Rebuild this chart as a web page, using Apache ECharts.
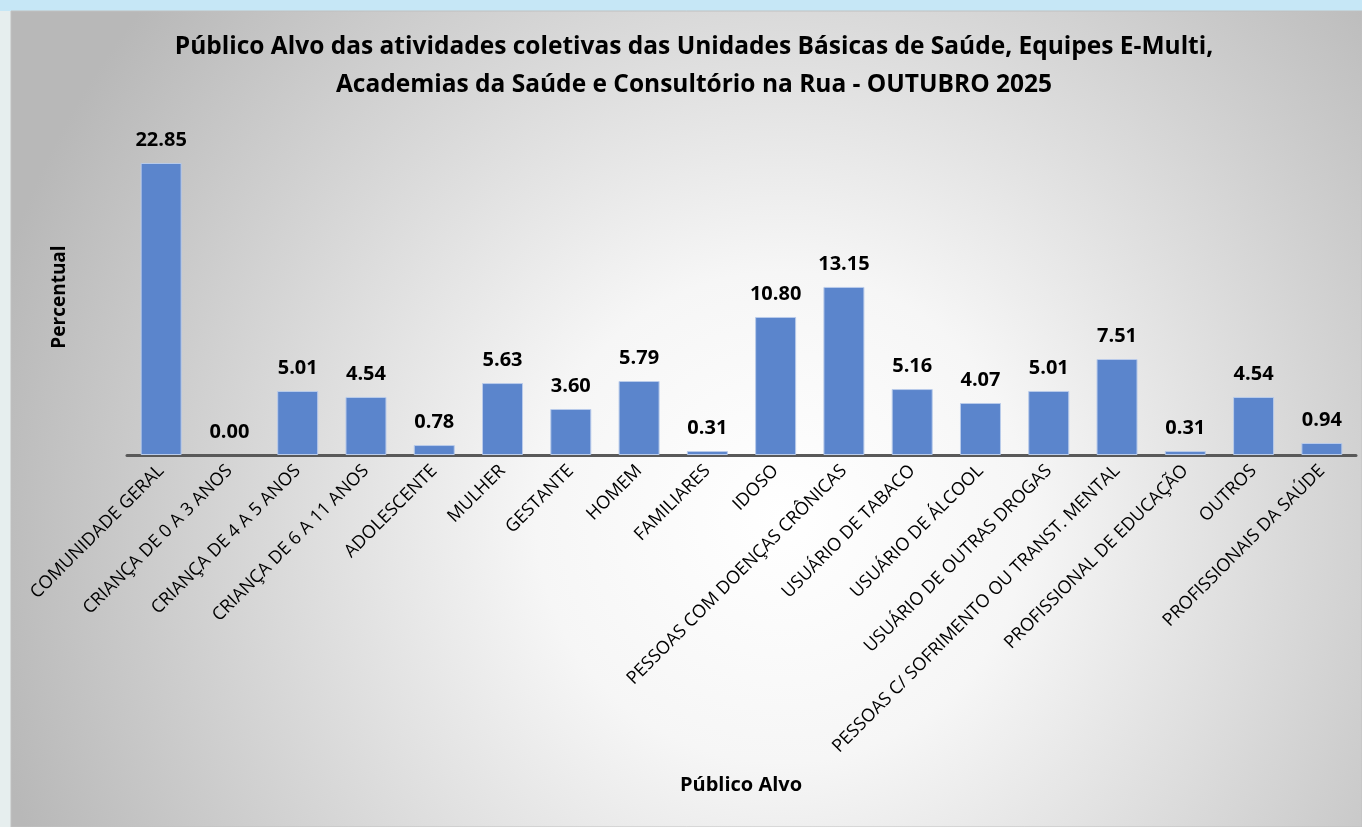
<!DOCTYPE html>
<html><head><meta charset="utf-8">
<script src="https://cdn.jsdelivr.net/npm/echarts@6/dist/echarts.min.js"></script>
<style>html,body{margin:0;padding:0;background:#c6e7f6;}#c{width:1362px;height:827px;}</style>
</head><body><div id="c"></div>
<script>
const titleText = 'Público Alvo das atividades coletivas das Unidades Básicas de Saúde, Equipes E-Multi,\nAcademias da Saúde e Consultório na Rua - OUTUBRO 2025';
const categories = ['COMUNIDADE GERAL','CRIANÇA DE 0 A 3 ANOS','CRIANÇA DE 4 A 5 ANOS','CRIANÇA DE 6 A 11 ANOS','ADOLESCENTE','MULHER','GESTANTE','HOMEM','FAMILIARES','IDOSO','PESSOAS COM DOENÇAS CRÔNICAS','USUÁRIO DE TABACO','USUÁRIO DE ÁLCOOL','USUÁRIO DE OUTRAS DROGAS','PESSOAS C/ SOFRIMENTO OU TRANST. MENTAL','PROFISSIONAL DE EDUCAÇÃO','OUTROS','PROFISSIONAIS DA SAÚDE'];
const values = [22.85,0.00,5.01,4.54,0.78,5.63,3.60,5.79,0.31,10.80,13.15,5.16,4.07,5.01,7.51,0.31,4.54,0.94];
const yAxisName = 'Percentual';
const xAxisName = 'Público Alvo';

const FONT = 'Open Sans';
const barData = values.map(v => v > 0 ? v : {value: v, itemStyle: {borderWidth: 0}});
const chart = echarts.init(document.getElementById('c'));
chart.setOption({
  backgroundColor: '#c6e7f6',
  animation: false,
  graphic: [
    {type:'rect', x:0, y:11, shape:{width:11,height:816}, style:{fill:'#e6eeee'}, z:-10, silent:true},
    {type:'rect', x:11, y:11, shape:{width:1351,height:816}, z:-10, silent:true,
     style:{fill:{type:'radial', x:0.57, y:0.62, r:1.0, colorStops:[{offset:0,color:'#ffffff'},{offset:0.3,color:'#f6f6f6'},{offset:1,color:'#b8b8b8'}]}, stroke:'#c0c0c0', lineWidth:1}},
    {type:'text', x:694, y:28, style:{text:titleText, font:'bold 24.5px "'+FONT+'"', fill:'#000', textAlign:'center', textVerticalAlign:'top', lineHeight:38}},
    {type:'text', x:60, y:297, rotation:Math.PI/2,
     style:{text:yAxisName, font:'bold 19px "'+FONT+'"', fill:'#000', textAlign:'center', textVerticalAlign:'middle'}},
    {type:'text', x:741, y:785, style:{text:xAxisName, font:'bold 20px "'+FONT+'"', fill:'#000', textAlign:'center', textVerticalAlign:'middle'}}
  ],
  grid: {left:127, right:6, top:135.5, bottom:827-455, containLabel:false},
  xAxis: {
    type:'category', data:categories,
    axisLine:{lineStyle:{color:'#595959', width:3}},
    axisTick:{show:false},
    axisLabel:{interval:0, rotate:45, color:'#000', fontFamily:FONT, fontSize:18, margin:13}
  },
  yAxis: {type:'value', min:0, max:25, show:false, splitLine:{show:false}},
  series: [{
    type:'bar', data:barData, barWidth:41,
    itemStyle:{color:'#5b85cc', borderColor:'#b9cbea', borderWidth:1},
    label:{show:true, position:'top', distance:13, formatter:p=>p.value.toFixed(2), color:'#000', fontFamily:FONT, fontWeight:'bold', fontSize:20}
  }]
});
</script></body></html>
